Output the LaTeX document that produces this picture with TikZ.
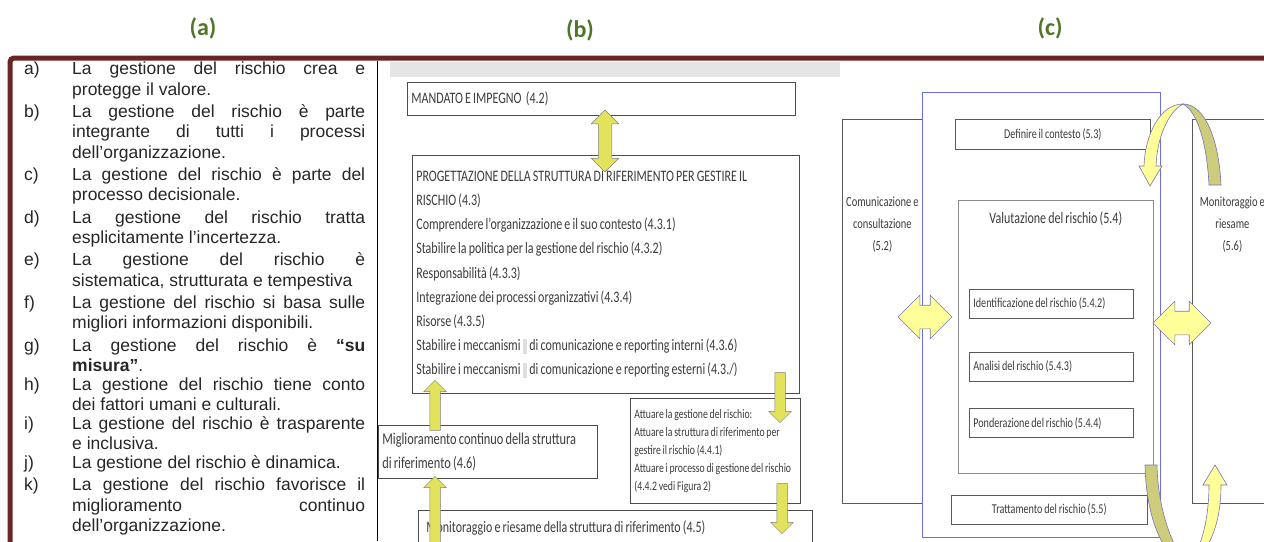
\documentclass[tikz,border=0pt]{standalone}
\usepackage{fontspec}
\setmainfont{Liberation Sans}
\newfontfamily\titlefont{Carlito}
\newfontfamily\narrowfont[FakeStretch=0.75, WordSpace=0.8]{Carlito}
\usepackage{xcolor}
\usepackage{tikz}
\usetikzlibrary{positioning, shapes.arrows, calc}

\definecolor{frameRed}{RGB}{107,36,36}
\definecolor{titleGreen}{RGB}{80,118,40}
\definecolor{textGray}{RGB}{60,60,60}
\definecolor{arrowB}{RGB}{226,226,92}
\definecolor{arrowLight}{RGB}{255,255,153}
\definecolor{arrowDark}{RGB}{204,204,122}
\definecolor{lineBlue}{RGB}{110,110,225}

\newcommand{\princitem}[2]{\tolerance=10000\hyphenpenalty=10000\hangindent=48pt\hangafter=1\noindent\makebox[48pt][l]{#1}#2\par}

\tikzset{
  paneltitle/.style={font=\titlefont\bfseries\fontsize{24}{24}\selectfont, text=titleGreen, inner sep=0pt},
  princ/.style={anchor=north west, inner sep=0pt, text width=341pt, align=justify, text=black!85, font=\fontsize{17.5}{20.3}\selectfont},
  fwbox/.style={draw=black!70, line width=0.7pt, fill=white, anchor=north west, inner xsep=4pt, inner ysep=0pt, align=left, text=textGray, font=\narrowfont\fontsize{16}{24.2}\selectfont, execute at begin node={\spaceskip=0pt\relax}},
  procbox/.style={draw=black!65, line width=0.7pt, fill=white, anchor=north west, inner sep=0pt, text=textGray, font=\narrowfont\fontsize{13.5}{20}\selectfont},
  riskbox/.style={procbox, minimum width=164pt, minimum height=29pt, inner xsep=4pt, text width=156pt, align=left, execute at begin node={\spaceskip=0pt\relax}},
  sidetext/.style={align=center, inner sep=0pt, text=textGray, font=\narrowfont\fontsize{14}{22}\selectfont},
  blockarrow/.style={single arrow, draw=black!50, fill=arrowB, line width=0.5pt, inner sep=5pt, single arrow head extend=6pt, minimum width=0pt},
  dblarrowB/.style={double arrow, draw=black!50, fill=arrowB, line width=0.5pt, inner sep=6.5pt, double arrow head extend=7pt, minimum width=0pt},
  dblarrowC/.style={double arrow, draw=lineBlue!60!gray, fill=arrowLight, line width=0.6pt, inner sep=11.5pt, double arrow head extend=10pt, minimum width=0pt},
  ribbon/.style={draw=lineBlue!60!gray, line width=0.6pt}
}

\begin{document}
\begin{tikzpicture}[x=1pt, y=-1pt]
  \useasboundingbox (0,0) rectangle (1264,541);
  % Titles
  \node[paneltitle] (titleA) at (203,28) {(a)};
  \node[paneltitle] (titleB) at (580,30) {(b)};
  \node[paneltitle] (titleC) at (1050,28) {(c)};
  % Frame
  \draw[frameRed, line width=5pt, rounded corners=4pt] (10,548) -- (10,58) -- (1270,58);
  \draw[black, line width=0.8pt] (377,61) -- (377,541);
  \fill[gray!20] (390,62) rectangle (840,77);

  % (a) principles
  \node[princ] (pa) at (24,62) {\princitem{a)}{La gestione del rischio crea e\linebreak protegge il valore.}};
  \node[princ, below=5.5pt of pa.south west, anchor=north west] (pb) {\princitem{b)}{La gestione del rischio è parte\linebreak integrante di tutti i processi\linebreak dell’organizzazione.}};
  \node[princ, below=5.5pt of pb.south west, anchor=north west] (pc) {\princitem{c)}{La gestione del rischio è parte del\linebreak processo decisionale.}};
  \node[princ, below=5.5pt of pc.south west, anchor=north west] (pd) {\princitem{d)}{La gestione del rischio tratta\linebreak esplicitamente l’incertezza.}};
  \node[princ, below=5.5pt of pd.south west, anchor=north west] (pe) {\princitem{e)}{La gestione del rischio è\linebreak sistematica, strutturata e tempestiva}};
  \node[princ, below=5.5pt of pe.south west, anchor=north west] (pf) {\princitem{f)}{La gestione del rischio si basa sulle\linebreak migliori informazioni disponibili.}};
  \node[princ, below=5.5pt of pf.south west, anchor=north west] (pg) {\princitem{g)}{La gestione del rischio è \textbf{“su}\linebreak \textbf{misura”}.}};
  \node[princ, below=5.5pt of pg.south west, anchor=north west] (ph) {\princitem{h)}{La gestione del rischio tiene conto\linebreak dei fattori umani e culturali.}};
  \node[princ, below=5.5pt of ph.south west, anchor=north west] (pi) {\princitem{i)}{La gestione del rischio è trasparente\linebreak e inclusiva.}};
  \node[princ, below=5.5pt of pi.south west, anchor=north west] (pj) {\princitem{j)}{La gestione del rischio è dinamica.}};
  \node[princ, below=5.5pt of pj.south west, anchor=north west] (pk) {\princitem{k)}{La gestione del rischio favorisce il\linebreak miglioramento continuo\linebreak dell’organizzazione.}};

  % (b) framework
  \node[fwbox, text width=380pt, minimum height=33pt] (mandato) at (407,82) {MANDATO E IMPEGNO~~(4.2)};
  \node[fwbox, text width=379pt, minimum height=238pt] (progett) at (412,155) {PROGETTAZIONE DELLA STRUTTURA DI RIFERIMENTO PER GESTIRE IL\\RISCHIO (4.3)\\Comprendere l’organizzazione e il suo contesto (4.3.1)\\Stabilire la politica per la gestione del rischio (4.3.2)\\Responsabilità (4.3.3)\\Integrazione dei processi organizzativi (4.3.4)\\Risorse (4.3.5)\\Stabilire i meccanismi\,\textcolor{gray!25}{\rule[-3pt]{4pt}{15pt}}\ di comunicazione e reporting interni (4.3.6)\\Stabilire i meccanismi\,\textcolor{gray!25}{\rule[-3pt]{4pt}{15pt}}\ di comunicazione e reporting esterni (4.3./)};
  \node[fwbox, font=\narrowfont\fontsize{13}{18}\selectfont, text width=162pt, minimum height=105pt] (attuare) at (630,398) {Attuare la gestione del rischio:\\Attuare la struttura di riferimento per\\gestire il rischio (4.4.1)\\Attuare i processo di gestione del rischio\\(4.4.2 vedi Figura 2)};
  \node[fwbox, font=\narrowfont\fontsize{16.5}{24}\selectfont, text width=211pt, minimum height=53pt] (miglior) at (378,425) {Miglioramento continuo della struttura\\di riferimento (4.6)};
  \node[fwbox, text width=386pt, minimum height=36pt] (monitB) at (418,510) {\hspace*{4pt}Monitoraggio e riesame della struttura di riferimento (4.5)};
  % (b) arrows
  \node[dblarrowB, shape border rotate=90, minimum height=62pt] (linkMP) at (605,141) {};
  \node[blockarrow, shape border rotate=90, minimum height=50pt] (upMig) at (435,408) {};
  \node[blockarrow, shape border rotate=270, minimum height=50pt] (downAtt) at (780,395) {};
  \node[blockarrow, shape border rotate=270, minimum height=50pt] (downMon) at (782,506) {};
  \node[blockarrow, shape border rotate=90, minimum height=66pt] (upMon) at (435,512) {};

  % (c) process
  \node[procbox, minimum width=80pt, minimum height=384pt] (comun) at (842,119) {};
  \node[sidetext, below=78pt of comun.north] (comunTxt) {Comunicazione e\\consultazione\\(5.2)};
  \node[procbox, minimum width=80pt, minimum height=384pt] (monitC) at (1192,119) {};
  \node[sidetext, below=78pt of monitC.north] (monitTxt) {Monitoraggio e\\riesame\\(5.6)};
  \draw[lineBlue, line width=0.7pt] (922,92) rectangle (1160,537);
  \node[procbox, minimum width=195pt, minimum height=30pt] (definire) at (955,119) {Definire il contesto (5.3)};
  \node[procbox, draw=black!45, minimum width=195pt, minimum height=273pt] (valut) at (958,200) {};
  \node[text=textGray, inner sep=0pt, font=\narrowfont\fontsize{16}{16}\selectfont, below=12pt of valut.north] (valutTxt) {Valutazione del rischio (5.4)};
  \node[riskbox] (ident) at (969,289) {Identificazione del rischio (5.4.2)};
  \node[riskbox, below=33pt of ident.south west, anchor=north west] (analisi) {Analisi del rischio (5.4.3)};
  \node[riskbox, below=27pt of analisi.south west, anchor=north west] (ponder) {Ponderazione del rischio (5.4.4)};
  \node[procbox, minimum width=196pt, minimum height=29pt] (trattam) at (951,495) {Trattamento del rischio (5.5)};
  % (c) arrows
  \node[dblarrowC, minimum height=54pt] (linkCom) at (925,317) {};
  \node[dblarrowC, minimum height=58pt] (linkMon) at (1182,323) {};
  % top loop
  \filldraw[ribbon, fill=arrowDark] (1183,104) .. controls (1205,104) and (1219,140) .. (1221,185)
    -- (1209,185) .. controls (1207,145) and (1198,112) .. cycle;
  \filldraw[ribbon, fill=arrowLight] (1183,104) .. controls (1160,104) and (1145,135) .. (1144,166)
    -- (1139,166) -- (1150,186) -- (1162,166) -- (1156,166) .. controls (1157,138) and (1168,112) .. cycle;
  % bottom loop
  \filldraw[ribbon, fill=arrowDark] (1145,465) .. controls (1146,520) and (1165,560) .. (1185,562)
    .. controls (1172,545) and (1158,510) .. (1157,465) -- cycle;
  \filldraw[ribbon, fill=arrowLight] (1185,562) .. controls (1200,558) and (1209,520) .. (1209,485)
    -- (1203,485) -- (1215,465) -- (1227,485) -- (1221,485) .. controls (1221,530) and (1205,560) .. cycle;
\end{tikzpicture}
\end{document}
